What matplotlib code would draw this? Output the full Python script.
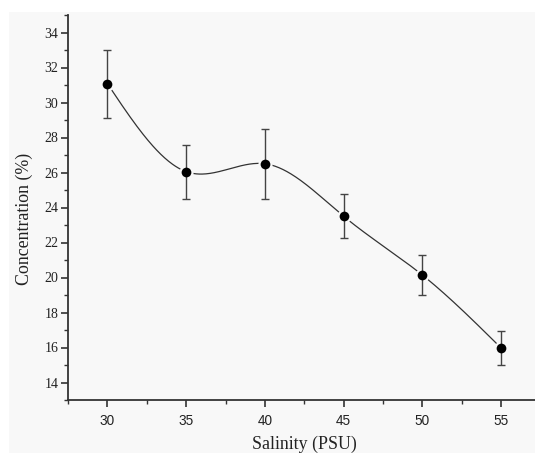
import numpy as np
import matplotlib
matplotlib.use("Agg")
import matplotlib.pyplot as plt
from matplotlib.patches import Rectangle
from matplotlib.ticker import MultipleLocator

salinity = [30, 35, 40, 45, 50, 55]
concentration = [31.08, 26.05, 26.50, 23.50, 20.14, 15.97]
error = [1.94, 1.55, 2.01, 1.25, 1.15, 0.96]
x_ticks = [30, 35, 40, 45, 50, 55]
y_ticks = [14, 16, 18, 20, 22, 24, 26, 28, 30, 32, 34]


def natural_spline(x, y, xs):
    x = np.asarray(x, float)
    y = np.asarray(y, float)
    n = len(x)
    h = np.diff(x)
    A = np.zeros((n, n))
    b = np.zeros(n)
    A[0, 0] = 1
    A[-1, -1] = 1
    for i in range(1, n - 1):
        A[i, i - 1] = h[i - 1]
        A[i, i] = 2 * (h[i - 1] + h[i])
        A[i, i + 1] = h[i]
        b[i] = 6 * ((y[i + 1] - y[i]) / h[i] - (y[i] - y[i - 1]) / h[i - 1])
    M = np.linalg.solve(A, b)
    ys = np.empty_like(xs)
    for k, xv in enumerate(xs):
        i = min(max(np.searchsorted(x, xv) - 1, 0), n - 2)
        t1 = x[i + 1] - xv
        t0 = xv - x[i]
        ys[k] = (M[i] * t1 ** 3 / (6 * h[i]) + M[i + 1] * t0 ** 3 / (6 * h[i])
                 + (y[i] / h[i] - M[i] * h[i] / 6) * t1
                 + (y[i + 1] / h[i] - M[i + 1] * h[i] / 6) * t0)
    return ys


bg = "#f8f8f8"
fig = plt.figure(figsize=(5.35, 4.53), dpi=100, facecolor="white")
fig.patches.append(Rectangle((9 / 535, 0), 1, 1 - 12 / 453, transform=fig.transFigure,
                             facecolor=bg, edgecolor="none", zorder=-10))
ax = fig.add_axes([68 / 535, 1 - 400 / 453, 1 - 68 / 535, (400 - 15) / 453])
ax.set_zorder(5)
ax.set_facecolor(bg)

xs = np.linspace(salinity[0], salinity[-1], 400)
ys = natural_spline(salinity, concentration, xs)
ax.plot(xs, ys, color="#333333", lw=0.9, zorder=1)
ax.plot(salinity, concentration, "o", ms=7, mfc="black", mec=bg, mew=3.2, zorder=2)
ax.errorbar(salinity, concentration, yerr=error, fmt="none", ecolor="#444444",
            elinewidth=1.0, capsize=3.0, capthick=1.0, zorder=3)
ax.plot(salinity, concentration, "o", ms=7, mfc="black", mec="black", mew=0, zorder=4)

ax.set_xlim(27.5, 57.15)
ax.set_ylim(13, 35)
ax.set_xticks(x_ticks, [str(v) for v in x_ticks], fontfamily="Liberation Sans",
              fontsize=9.8, color="#222222")
ax.set_yticks(y_ticks, [str(v) for v in y_ticks], fontfamily="Liberation Serif",
              fontsize=10, color="#222222")
ax.xaxis.set_minor_locator(MultipleLocator(2.5))
ax.yaxis.set_minor_locator(MultipleLocator(1))
for s in ["top", "right"]:
    ax.spines[s].set_visible(False)
for s in ["left", "bottom"]:
    ax.spines[s].set_linewidth(1.3)
    ax.spines[s].set_color("#333333")
ax.tick_params(which="major", direction="out", length=5, width=1.2, color="#333333")
ax.tick_params(which="minor", direction="out", length=3, width=1.0, color="#333333")
ax.tick_params(axis="y", pad=2)
ax.tick_params(axis="x", pad=5)

ax.set_ylabel("Concentration (%)", family="Liberation Serif", fontsize=12.9, color="#222222")
ax.set_xlabel("Salinity (PSU)", family="Liberation Serif", fontsize=12.9, color="#222222")
ax.yaxis.set_label_coords((33 - 68) / 467, (400 - 218.5) / 385)
ax.xaxis.set_label_coords((304 - 68) / 467, (400 - 435.5) / 385)

fig.savefig("out.png", dpi=100, facecolor="white")
